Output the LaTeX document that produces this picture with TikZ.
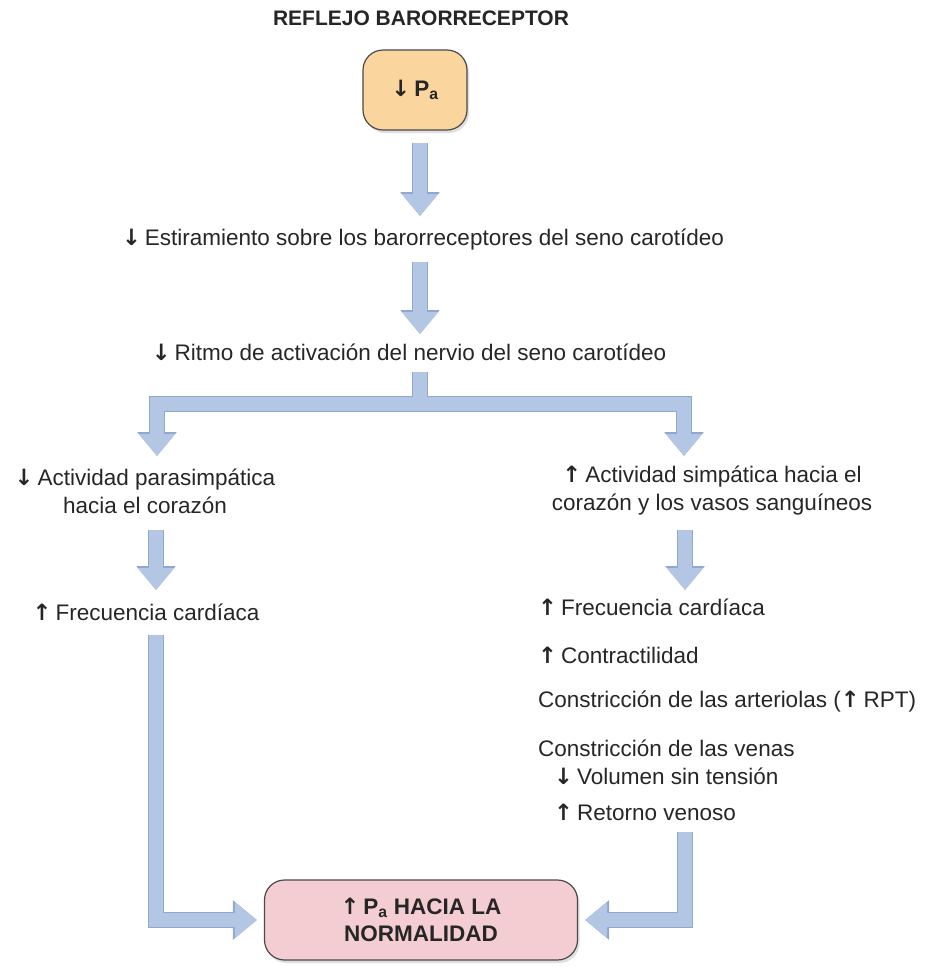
\documentclass[tikz,border=0pt]{standalone}
\usepackage{fontspec}
\setmainfont{Liberation Sans}
\newfontfamily\symfont{DejaVu Sans}
\usetikzlibrary{arrows.meta,shadows}
\definecolor{arrowfill}{HTML}{B3C6E3}
\definecolor{arrowedge}{HTML}{8EA8D0}
\definecolor{topfill}{HTML}{FAD69E}
\definecolor{botfill}{HTML}{F3CDD2}
\definecolor{boxedge}{HTML}{4A4A4A}
\newcommand{\arrdn}{{\symfont\bfseries ↓}\hspace{0.18em}}
\newcommand{\arrup}{{\symfont\bfseries ↑}\hspace{0.18em}}
\newcommand{\Pa}{P\textsubscript{a}}
\begin{document}
\begin{tikzpicture}[x=1pt,y=-1pt,
  txt/.style={font=\fontsize{22.5}{28}\selectfont, inner sep=0pt, text=black!85},
  shaftedge/.style={draw=arrowedge, line width=16pt},
  shaftfill/.style={draw=arrowfill, line width=13.5pt},
  tipedge/.style={-{Triangle[width=38pt,length=24pt]}},
  tipfill/.style={-{Triangle[width=35pt,length=22pt]}},
  blk/.style={shaftfill, tipfill, preaction={shaftedge, tipedge}},
  rbox/.style={draw=boxedge, line width=1.2pt, rounded corners=20pt,
    drop shadow={opacity=0.25, shadow xshift=2pt, shadow yshift=-3pt},
    font=\fontsize{22.5}{27}\selectfont\bfseries, align=center, text=black!85}
]
\useasboundingbox (0,0) rectangle (925,967);

\node[txt, font=\fontsize{21}{26}\selectfont\bfseries] (title) at (421,18) {REFLEJO BARORRECEPTOR};
\node[rbox, fill=topfill, minimum width=104pt, minimum height=80pt] (top) at (415,90) {\arrdn\Pa};

\coordinate (ccol) at (420,0);
\coordinate (lcol) at (156,0);
\coordinate (rcol) at (685,0);

\node[txt] (t2) at (423,240) {\arrdn Estiramiento sobre los barorreceptores del seno carotídeo};
\node[txt] (t3) at (409,352) {\arrdn Ritmo de activación del nervio del seno carotídeo};

\node[txt, align=center] (lp) at (145,491) {\arrdn Actividad parasimpática\\hacia el corazón};
\node[txt, align=center] (rs) at (712,491) {\arrup Actividad simpática hacia el\\corazón y los vasos sanguíneos};

\node[txt] (lf) at (146,612) {\arrup Frecuencia cardíaca};

\node[txt, anchor=west] (r1) at (538,607) {\arrup Frecuencia cardíaca};
\node[txt, anchor=west] (r2) at (538,655) {\arrup Contractilidad};
\node[txt, anchor=west] (r3) at (538,702) {Constricción de las arteriolas (\arrup RPT)};
\node[txt, anchor=west] (r4) at (538,748) {Constricción de las venas};
\node[txt, anchor=west] (r5) at (554,776) {\arrdn Volumen sin tensión};
\node[txt, anchor=west] (r6) at (554,812) {\arrup Retorno venoso};

\node[rbox, fill=botfill, minimum width=313pt, minimum height=80pt] (bot) at (421,920) {\arrup\Pa\ HACIA LA\\NORMALIDAD};

% vertical arrows
\draw[blk] (ccol |- 0,143) coordinate (a1s) -- (ccol |- 0,216) coordinate (a1e);
\draw[blk] (ccol |- 0,262) coordinate (a2s) -- (ccol |- 0,334) coordinate (a2e);
\draw[blk] (lcol |- 0,530) coordinate (a3s) -- (lcol |- 0,590) coordinate (a3e);
\draw[blk] (rcol |- 0,530) coordinate (a4s) -- (rcol |- 0,590) coordinate (a4e);

% branch
\coordinate (stubtop) at (420,372);
\coordinate (bar) at (420,404);
\coordinate (ltip) at (157,456);
\coordinate (rtip) at (684,456);
\draw[shaftedge] (stubtop) -- (bar);
\draw[shaftedge, {Triangle[width=38pt,length=24pt]}-{Triangle[width=38pt,length=24pt]}] (ltip) |- (bar -| rtip) -- (rtip);
\draw[shaftfill] (stubtop) -- (bar);
\draw[shaftfill, {Triangle[width=35pt,length=22pt]}-{Triangle[width=35pt,length=22pt]}] (ltip) |- (bar -| rtip) -- (rtip);

% long connectors to the final box
\draw[blk, shorten >=7pt] (lcol |- 0,635) |- (bot.west);
\draw[blk, shorten >=7pt] (rcol |- 0,832) |- (bot.east);
\end{tikzpicture}
\end{document}
